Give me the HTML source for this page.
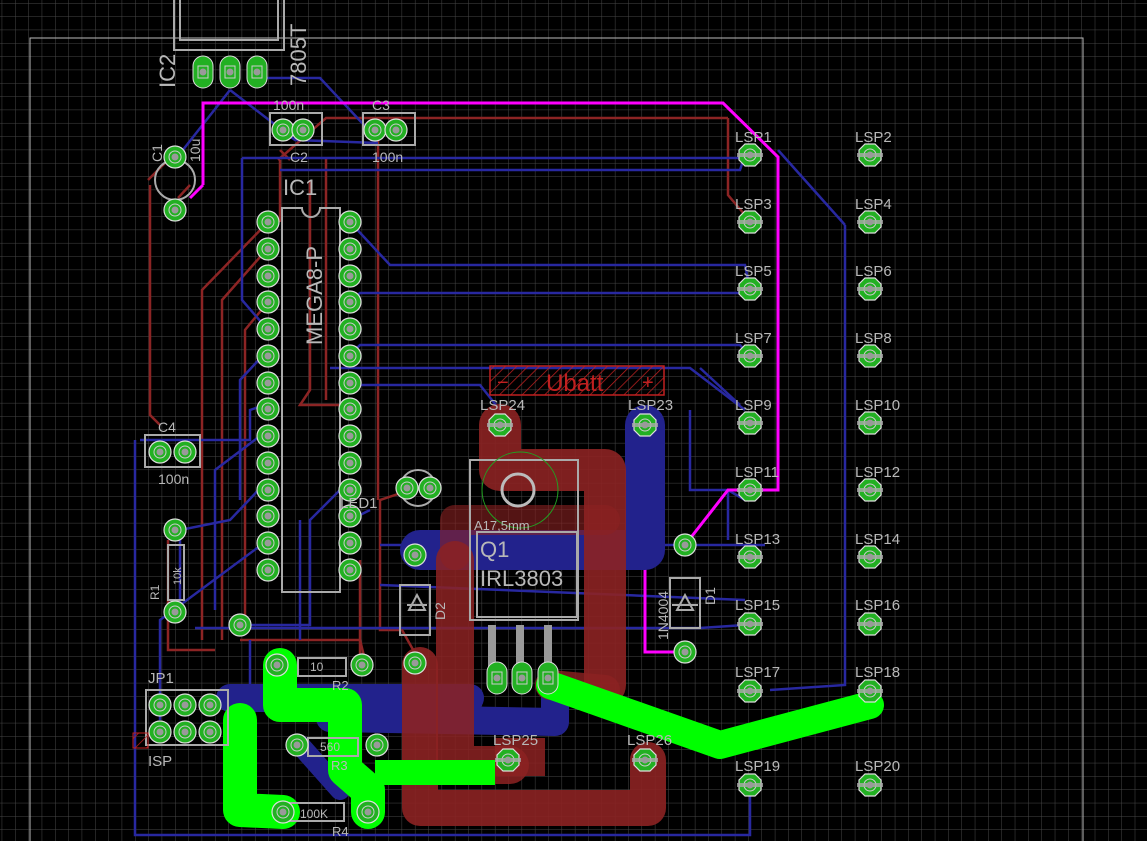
<!DOCTYPE html>
<html><head><meta charset="utf-8"><style>
html,body{margin:0;padding:0;background:#000;overflow:hidden}
svg{display:block}
text{font-family:"Liberation Sans",sans-serif;fill:#b8b8b8}
</style></head><body>
<svg width="1147" height="841" viewBox="0 0 1147 841" xmlns="http://www.w3.org/2000/svg">
<defs>
<pattern id="g" x="1.7" y="3" width="13.33" height="13.33" patternUnits="userSpaceOnUse">
<path d="M0 0H13.33M0 0V13.33" stroke="#474747" stroke-width="1" fill="none"/>
</pattern>
<pattern id="h" width="8" height="8" patternUnits="userSpaceOnUse" patternTransform="rotate(45)">
<path d="M0 0V8" stroke="#c02020" stroke-width="1.5"/>
</pattern>
<g id="p"><circle r="11" fill="#22b022" stroke="#ddd" stroke-width="1.2"/><circle r="6" fill="none" stroke="#ccc" stroke-width="1"/><circle r="3.5" fill="#999"/></g>
<g id="lp"><polygon points="-5,-11 5,-11 11,-5 11,5 5,11 -5,11 -11,5 -11,-5" fill="#22b022" stroke="#ddd" stroke-width="1.2"/><circle r="6" fill="none" stroke="#ccc"/><rect x="-13" y="-2" width="26" height="4" fill="#aaa" opacity=".8"/><circle r="3.5" fill="#999"/></g>
<g id="op"><rect x="-10" y="-16" width="20" height="32" rx="10" fill="#22b022" stroke="#ddd"/><rect x="-5" y="-6" width="10" height="12" fill="none" stroke="#ccc"/><circle r="3.5" fill="#999"/></g>
</defs>
<rect width="1147" height="841" fill="#000"/>
<rect width="1147" height="841" fill="url(#g)"/>
<rect x="30" y="38" width="1053" height="830" fill="none" stroke="#bbb" stroke-width="1"/>

<g stroke="#8c2424" stroke-width="2.5" fill="none">
<path d="M150 185 L150 415 L160 425"/>
<path d="M148 180 L168 160"/>
<path d="M190 185 L178 198"/>
<path d="M728 118 L326 118 L278 160"/>
<path d="M728 118 L728 195 L745 215"/>
<path d="M326 158 L326 400"/>
<path d="M280 150 L290 160"/>
<path d="M378 118 L378 500"/>
<path d="M268 222 L202 290 L202 640"/>
<path d="M268 248 L222 300 L222 640"/>
<path d="M268 302 L245 330 L245 620"/>
<path d="M310 180 L310 390 L300 405 L350 405"/>
<path d="M280 160 L280 222"/>
<path d="M168 540 L168 650 L215 650"/>
<path d="M240 640 L360 640 L365 660"/>
<path d="M410 490 L380 500 L380 630 L402 630 L416 655"/>
<path d="M360 560 L360 655"/>
</g>
<g stroke="#2828a0" stroke-width="2.5" fill="none">
<path d="M250 78 L320 78 L378 140"/>
<path d="M230 90 L175 160"/>
<path d="M230 90 L295 140 L378 143"/>
<path d="M242 158 L242 300 L268 330"/>
<path d="M242 158 L740 158"/>
<path d="M280 170 L740 170 L745 155"/>
<path d="M350 222 L390 265 L745 265 L750 290"/>
<path d="M350 302 L360 293 L745 293"/>
<path d="M350 355 L360 345 L740 345 L750 356"/>
<path d="M350 385 L480 385 L500 410"/>
<path d="M330 368 L690 368 L745 410"/>
<path d="M268 350 L240 380 L240 500"/>
<path d="M268 430 L215 470 L215 610"/>
<path d="M268 480 L230 520 L180 530 L180 620"/>
<path d="M140 440 L250 440 L250 410 L268 404"/>
<path d="M135 440 L135 835 L750 835 L750 795"/>
<path d="M268 540 L160 620 L160 720"/>
<path d="M350 480 L310 520 L310 625 L240 625"/>
<path d="M300 520 L300 640"/>
<path d="M700 368 L740 405"/>
<path d="M690 410 L690 490 L728 490 L745 500"/>
<path d="M728 490 L728 540"/>
<path d="M350 520 L370 510"/>
<path d="M380 545 L765 545"/>
<path d="M195 628 L700 628 L745 625"/>
<path d="M845 225 L845 685 L770 690"/>
<path d="M778 150 L845 225"/>
<path d="M380 585 L745 600"/>
<path d="M250 640 L250 695"/>
</g>
<g stroke="#ff00ff" stroke-width="3" fill="none">
<path d="M203 185 L203 103 L723 103 L778 157 L778 490 L728 490 L685 545"/>
<path d="M203 185 L190 198"/>
<path d="M645 425 L645 652 L685 652"/>
</g>

<g fill="none" stroke-linecap="round" stroke-linejoin="round">
<path d="M645 425 L645 550 L420 550" stroke="#22228c" stroke-width="40"/>
<path d="M230 698 L470 698" stroke="#22228c" stroke-width="28"/>
<path d="M330 718 L555 722 L555 690" stroke="#22228c" stroke-width="28"/>
<path d="M300 745 L340 790" stroke="#22228c" stroke-width="20"/>
<path d="M500 425 L500 470 L605 470 L605 685" stroke="#8c2222" stroke-width="42" opacity=".9"/>
<path d="M455 560 L455 765 L510 765" stroke="#8c2222" stroke-width="38" opacity=".85"/>
<path d="M420 665 L420 808 L648 808 L648 760" stroke="#8c2222" stroke-width="36" opacity=".9"/>
<path d="M455 555 L455 520 L605 520" stroke="#8c2222" stroke-width="30" opacity=".6"/>
<path d="M550 685 L605 690" stroke="#8c2222" stroke-width="30" opacity=".8"/>
<path d="M280 665 L280 705 L345 705 L345 770 L368 790 L368 812" stroke="#00ff00" stroke-width="34"/>
<path d="M240 720 L240 810 L283 812" stroke="#00ff00" stroke-width="34"/>
<path d="M550 685 L720 745 L870 705" stroke="#00ff00" stroke-width="28"/>
<path d="M550 683 L590 695" stroke="#00ff00" stroke-width="14"/>
</g>
<rect x="375" y="760" width="120" height="25" fill="#00ff00"/>
<rect x="495" y="738" width="50" height="38" fill="#8c2222" opacity=".85"/>

<g stroke="#aaa" stroke-width="2" fill="none">
<rect x="174" y="-5" width="110" height="55"/><rect x="180" y="-5" width="98" height="45"/>
<path d="M282 208 L282 592 L340 592 L340 208 L320 208 A9 9 0 0 1 302 208 Z"/>
<rect x="270" y="113" width="52" height="32"/><rect x="363" y="113" width="52" height="32"/>
<rect x="145" y="435" width="55" height="32"/>
<circle cx="175" cy="180" r="20"/>
<rect x="470" y="460" width="108" height="160"/>
<rect x="477" y="532" width="100" height="85"/>
<rect x="400" y="585" width="30" height="50"/>
<rect x="670" y="578" width="30" height="50"/>
<rect x="168" y="545" width="16" height="55"/>
<rect x="298" y="658" width="48" height="18"/>
<rect x="308" y="738" width="50" height="18"/>
<rect x="290" y="803" width="54" height="18"/>
<rect x="146" y="690" width="82" height="55"/>
<circle cx="418" cy="488" r="18"/>
<path d="M492 625 V680 M520 625 V680 M548 625 V680" stroke-width="8" stroke="#999"/>
<path d="M407 605 H427 M417 595 L409 610 H425 Z M672 605 H698 M685 595 L677 610 H693 Z"/>
<circle cx="518" cy="490" r="16" stroke="#bbb" stroke-width="3"/>
<circle cx="520" cy="490" r="38" stroke="#22a022" stroke-width="1"/>
</g>
<rect x="490" y="366" width="174" height="29" fill="url(#h)" stroke="#c02020" stroke-width="1.5"/>
<text x="546" y="391" font-size="24" style="fill:#c02020">Ubatt</text>
<text x="497" y="389" font-size="20" style="fill:#c02020">−</text>
<text x="642" y="389" font-size="20" style="fill:#c02020">+</text>
<rect x="133" y="733" width="15" height="15" fill="url(#h)" stroke="#c02020"/>

<g>
<use href="#op" x="203" y="72"/><use href="#op" x="230" y="72"/><use href="#op" x="257" y="72"/>
<use href="#p" x="283" y="130"/><use href="#p" x="303" y="130"/>
<use href="#p" x="375" y="130"/><use href="#p" x="396" y="130"/>
<use href="#p" x="175" y="157"/><use href="#p" x="175" y="210"/>
<use href="#p" x="160" y="452"/><use href="#p" x="185" y="452"/>
<use href="#p" x="175" y="530"/><use href="#p" x="175" y="612"/>
<use href="#p" x="240" y="625"/>
<use href="#p" x="407" y="488"/><use href="#p" x="430" y="488"/>
<use href="#p" x="415" y="555"/><use href="#p" x="415" y="663"/>
<use href="#p" x="685" y="545"/><use href="#p" x="685" y="652"/>
<use href="#p" x="277" y="665"/><use href="#p" x="362" y="665"/>
<use href="#p" x="297" y="745"/><use href="#p" x="377" y="745"/>
<use href="#p" x="283" y="812"/><use href="#p" x="368" y="812"/>
<use href="#op" x="497" y="678"/><use href="#op" x="522" y="678"/><use href="#op" x="548" y="678"/>
<use href="#p" x="160" y="705"/><use href="#p" x="185" y="705"/><use href="#p" x="210" y="705"/>
<use href="#p" x="160" y="732"/><use href="#p" x="185" y="732"/><use href="#p" x="210" y="732"/>
</g>
<g>
<use href="#p" x="268" y="222"/><use href="#p" x="268" y="249"/><use href="#p" x="268" y="276"/><use href="#p" x="268" y="302"/><use href="#p" x="268" y="329"/><use href="#p" x="268" y="356"/><use href="#p" x="268" y="383"/><use href="#p" x="268" y="409"/><use href="#p" x="268" y="436"/><use href="#p" x="268" y="463"/><use href="#p" x="268" y="490"/><use href="#p" x="268" y="516"/><use href="#p" x="268" y="543"/><use href="#p" x="268" y="570"/>
<use href="#p" x="350" y="222"/><use href="#p" x="350" y="249"/><use href="#p" x="350" y="276"/><use href="#p" x="350" y="302"/><use href="#p" x="350" y="329"/><use href="#p" x="350" y="356"/><use href="#p" x="350" y="383"/><use href="#p" x="350" y="409"/><use href="#p" x="350" y="436"/><use href="#p" x="350" y="463"/><use href="#p" x="350" y="490"/><use href="#p" x="350" y="516"/><use href="#p" x="350" y="543"/><use href="#p" x="350" y="570"/>
</g>
<g>
<use href="#lp" x="750" y="155"/><use href="#lp" x="870" y="155"/>
<use href="#lp" x="750" y="222"/><use href="#lp" x="870" y="222"/>
<use href="#lp" x="750" y="289"/><use href="#lp" x="870" y="289"/>
<use href="#lp" x="750" y="356"/><use href="#lp" x="870" y="356"/>
<use href="#lp" x="750" y="423"/><use href="#lp" x="870" y="423"/>
<use href="#lp" x="750" y="490"/><use href="#lp" x="870" y="490"/>
<use href="#lp" x="750" y="557"/><use href="#lp" x="870" y="557"/>
<use href="#lp" x="750" y="624"/><use href="#lp" x="870" y="624"/>
<use href="#lp" x="750" y="691"/><use href="#lp" x="870" y="691"/>
<use href="#lp" x="750" y="785"/><use href="#lp" x="870" y="785"/>
<use href="#lp" x="500" y="425"/><use href="#lp" x="645" y="425"/>
<use href="#lp" x="508" y="760"/><use href="#lp" x="645" y="760"/>
</g>

<g font-size="15">
<text x="735" y="142">LSP1</text><text x="855" y="142">LSP2</text>
<text x="735" y="209">LSP3</text><text x="855" y="209">LSP4</text>
<text x="735" y="276">LSP5</text><text x="855" y="276">LSP6</text>
<text x="735" y="343">LSP7</text><text x="855" y="343">LSP8</text>
<text x="735" y="410">LSP9</text><text x="855" y="410">LSP10</text>
<text x="735" y="477">LSP11</text><text x="855" y="477">LSP12</text>
<text x="735" y="544">LSP13</text><text x="855" y="544">LSP14</text>
<text x="735" y="610">LSP15</text><text x="855" y="610">LSP16</text>
<text x="735" y="677">LSP17</text><text x="855" y="677">LSP18</text>
<text x="735" y="771">LSP19</text><text x="855" y="771">LSP20</text>
<text x="480" y="410">LSP24</text><text x="628" y="410">LSP23</text>
<text x="493" y="745">LSP25</text><text x="627" y="745">LSP26</text>
<text x="273" y="110" font-size="14">100n</text><text x="290" y="162" font-size="14">C2</text>
<text x="372" y="110" font-size="14">C3</text><text x="372" y="162" font-size="14">100n</text>
<text x="158" y="432" font-size="14">C4</text><text x="158" y="484" font-size="14">100n</text>
<text x="148" y="683">JP1</text><text x="148" y="766">ISP</text>
<text x="480" y="557" font-size="22">Q1</text>
<text x="480" y="586" font-size="22">IRL3803</text>
<text x="474" y="530" font-size="13">A17,5mm</text>
<text x="340" y="508" font-size="15">LED1</text>
<text x="283" y="195" font-size="22">IC1</text>
<text x="332" y="690" font-size="13">R2</text>
<text x="331" y="770" font-size="13">R3</text>
<text x="332" y="836" font-size="13">R4</text>
<text x="310" y="671" font-size="12">10</text>
<text x="320" y="751" font-size="12">560</text>
<text x="300" y="818" font-size="12">100K</text>
</g>
<g font-size="22">
<text transform="translate(175,88) rotate(-90)">IC2</text>
<text transform="translate(306,86) rotate(-90)">7805T</text>
<text transform="translate(322,345) rotate(-90)">MEGA8-P</text>
</g>
<g font-size="14">
<text transform="translate(162,162) rotate(-90)">C1</text>
<text transform="translate(200,162) rotate(-90)">10u</text>
<text transform="translate(445,620) rotate(-90)">D2</text>
<text transform="translate(715,605) rotate(-90)">D1</text>
<text transform="translate(668,640) rotate(-90)">1N4004</text>
<text transform="translate(159,600) rotate(-90)" font-size="12">R1</text>
<text transform="translate(181,585) rotate(-90)" font-size="11">10k</text>
</g>
</svg>
</body></html>
